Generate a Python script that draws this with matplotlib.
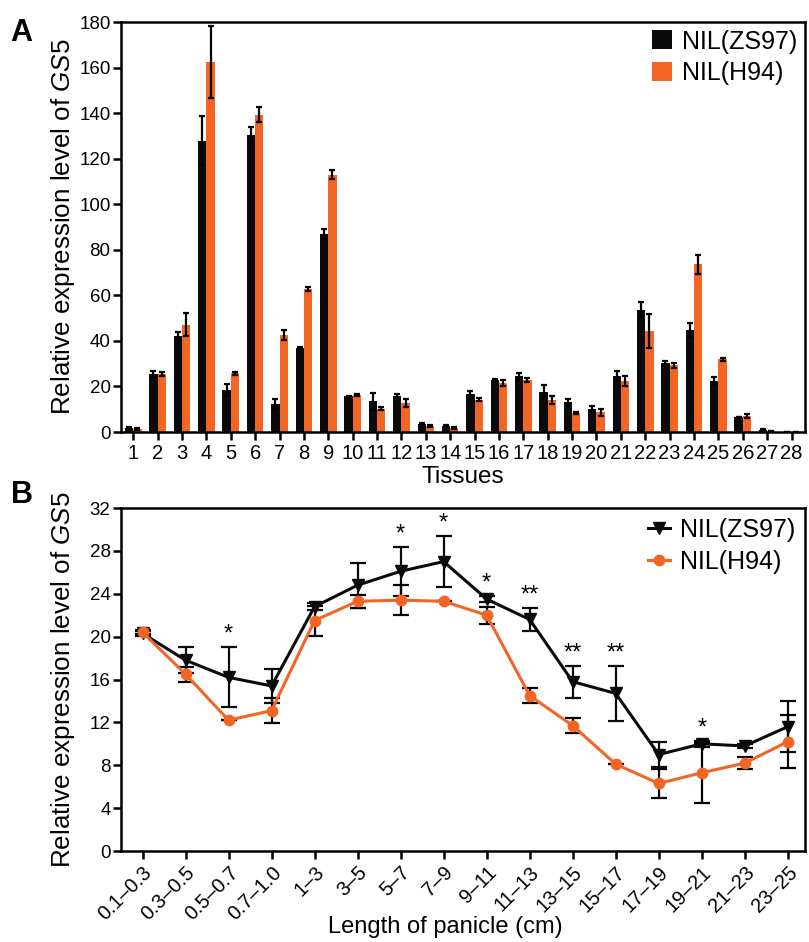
import matplotlib
matplotlib.use('Agg')
import matplotlib.pyplot as plt
import numpy as np

plt.rcParams['font.family'] = ['Liberation Sans', 'DejaVu Sans']
plt.rcParams['mathtext.fontset'] = 'custom'
plt.rcParams['mathtext.rm'] = 'Liberation Sans'
plt.rcParams['mathtext.it'] = 'Liberation Sans:italic'

BLACK = '#0a0a0a'
ORANGE = '#f26525'

# Panel A: expression in 28 tissues
tissues = list(range(1, 29))
zs97_a = [1.9, 25.4, 42.1, 127.9, 18.6, 130.6, 12.5, 36.7, 87.0, 15.7,
          13.5, 15.7, 3.7, 2.8, 16.6, 22.9, 24.5, 17.6, 13.1, 10.0,
          24.5, 53.7, 30.2, 44.6, 22.4, 6.6, 1.0, 0.1]
zs97_a_err = [0.3, 1.3, 1.8, 10.7, 2.6, 3.4, 2.2, 0.5, 2.3, 0.3,
              3.7, 0.8, 0.3, 0.3, 1.3, 0.3, 1.5, 3.2, 1.6, 1.6,
              2.3, 3.5, 1.0, 3.1, 1.8, 0.2, 0.3, 0.0]
h94_a = [1.3, 25.4, 47.2, 162.5, 25.7, 139.4, 42.7, 62.9, 113.0, 16.4,
         10.3, 12.9, 2.6, 1.8, 14.2, 21.7, 22.7, 13.9, 8.5, 8.7,
         22.4, 44.3, 29.2, 73.6, 32.0, 7.2, 0.4, 0.1]
h94_a_err = [0.3, 1.0, 5.0, 15.7, 0.5, 3.3, 2.3, 0.8, 1.9, 0.5,
             0.7, 1.8, 0.3, 0.3, 0.6, 1.3, 0.8, 1.8, 0.4, 1.5,
             2.4, 7.6, 1.3, 4.3, 0.7, 0.9, 0.1, 0.0]

# Panel B: expression along panicle length
lengths = ['0.1–0.3', '0.3–0.5', '0.5–0.7', '0.7–1.0', '1–3', '3–5', '5–7', '7–9',
           '9–11', '11–13', '13–15', '15–17', '17–19', '19–21', '21–23', '23–25']
zs97_b = [20.3, 17.8, 16.2, 15.4, 22.8, 24.8, 26.1, 27.0,
          23.5, 21.6, 15.8, 14.7, 9.0, 10.0, 9.8, 11.6]
zs97_b_err = [0.2, 1.2, 2.8, 1.6, 0.3, 2.1, 2.3, 2.4,
              0.3, 1.1, 1.5, 2.6, 1.2, 0.3, 0.2, 2.4]
h94_b = [20.4, 16.5, 12.2, 13.1, 21.5, 23.3, 23.4, 23.3,
         22.0, 14.5, 11.7, 8.1, 6.3, 7.3, 8.2, 10.2]
h94_b_err = [0.2, 0.7, 0.0, 1.2, 1.4, 0.6, 1.4, 0.0,
             0.8, 0.7, 0.7, 0.0, 1.35, 2.8, 0.55, 2.5]
signif = ['', '', '*', '', '', '', '*', '*', '*', '**', '**', '**', '', '*', '', '']

ylabel = r'Relative expression level of $\it{GS5}$'

fig = plt.figure(figsize=(8.09, 9.42), dpi=100)
ax1 = fig.add_axes([0.1496, 0.5414, 0.8454, 0.4352])
ax2 = fig.add_axes([0.1496, 0.0966, 0.8454, 0.3641])

for ax in (ax1, ax2):
    for sp in ax.spines.values():
        sp.set_linewidth(1.8)
    ax.tick_params(direction='out', length=6, width=1.8, labelsize=13.5, pad=1.5)

# --- panel A ---
x = np.array(tissues)
w = 0.34
err_kw = dict(ecolor='black', elinewidth=1.6, capsize=2.5, capthick=1.6)
ax1.bar(x - w / 2, zs97_a, w, yerr=zs97_a_err, color=BLACK, label='NIL(ZS97)',
        error_kw=err_kw)
ax1.bar(x + w / 2, h94_a, w, yerr=h94_a_err, color=ORANGE, label='NIL(H94)',
        error_kw=err_kw)
ax1.set_xlim(0.5, 28.55)
ax1.set_ylim(0, 180)
ax1.set_yticks(range(0, 181, 20))
ax1.set_xticks(x)
ax1.tick_params(axis='x', labelsize=14.5, pad=2.5)
ax1.set_xlabel('Tissues', fontsize=17.5, labelpad=2)
ax1.set_ylabel(ylabel, fontsize=18.7)
ax1.yaxis.set_label_coords(-0.064, 0.5)
ax1.legend(loc='upper right', frameon=False, fontsize=18, handlelength=0.8,
           handleheight=0.8, handletextpad=0.4, labelspacing=0.3,
           borderpad=0.2, borderaxespad=0.1)

# --- panel B ---
xb = np.arange(len(lengths))
ax2.errorbar(xb, zs97_b, yerr=zs97_b_err, color=BLACK, marker='v', markersize=9,
             linewidth=2.2, elinewidth=1.6, capsize=6, capthick=1.6,
             label='NIL(ZS97)')
ax2.errorbar(xb, h94_b, yerr=h94_b_err, color=ORANGE, marker='o', markersize=7.5,
             linewidth=2.2, ecolor='black', elinewidth=1.6, capsize=6,
             capthick=1.6, label='NIL(H94)')
for i, s in enumerate(signif):
    if s:
        top = max(zs97_b[i] + zs97_b_err[i], h94_b[i] + h94_b_err[i])
        ax2.annotate(s, (xb[i], top), xytext=(0, 1), textcoords='offset points',
                     ha='center', va='bottom', fontsize=17)
ax2.set_xlim(-0.5, 15.4)
ax2.set_ylim(0, 32)
ax2.set_yticks(range(0, 33, 4))
ax2.set_xticks(xb)
ax2.tick_params(axis='x', pad=2.5)
ax2.set_xticklabels(lengths, rotation=45, ha='right', rotation_mode='anchor',
                    fontsize=14.5)
ax2.set_xlabel('Length of panicle (cm)', fontsize=17)
ax2.xaxis.set_label_coords(0.474, -0.19)
ax2.set_ylabel(ylabel, fontsize=18.7)
ax2.yaxis.set_label_coords(-0.064, 0.5)
h, l = ax2.get_legend_handles_labels()
h = [hh[0] for hh in h]
ax2.legend(h, l, loc='upper right', frameon=False, fontsize=18, handlelength=0.85,
           handletextpad=0.4, labelspacing=0.3, borderpad=0.3, borderaxespad=0.1)

fig.text(0.013, 0.965, 'A', fontsize=22, fontweight='bold', va='center')
fig.text(0.013, 0.4745, 'B', fontsize=22, fontweight='bold', va='center')

fig.savefig('out.png', dpi=100)
